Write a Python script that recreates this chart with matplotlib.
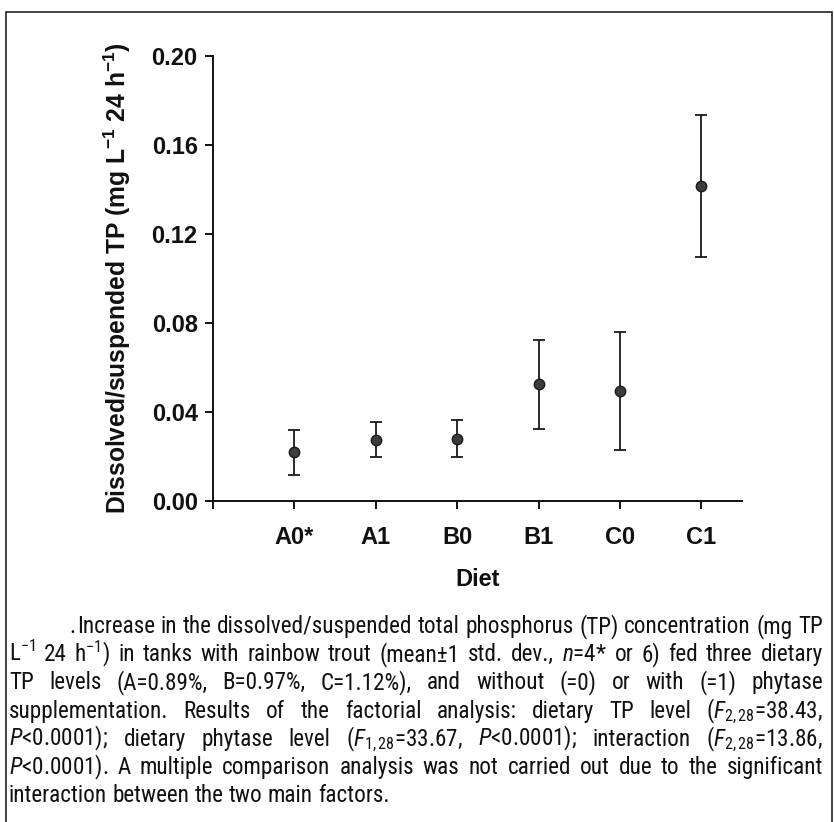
import matplotlib
matplotlib.use('Agg')
import matplotlib.pyplot as plt
from matplotlib import font_manager as fm
from matplotlib.patches import Rectangle

# ---------------- data ----------------
diets = ['A0*', 'A1', 'B0', 'B1', 'C0', 'C1']
means = [0.0218, 0.0276, 0.0280, 0.0524, 0.0494, 0.1416]
sds = [0.0100, 0.0078, 0.0083, 0.0201, 0.0265, 0.0319]
yticks = [0.00, 0.04, 0.08, 0.12, 0.16, 0.20]
ylabel = r'Dissolved/suspended TP (mg L$^{-1}$ 24 h$^{-1}$)'
xlabel = 'Diet'

caption_lines = [
    ['Increase', 'in', 'the', 'dissolved/suspended', 'total', 'phosphorus', '(TP)', 'concentration', '(mg', 'TP'],
    ['L$^{-1}$', '24', 'h$^{-1}$)', 'in', 'tanks', 'with', 'rainbow', 'trout', '(mean±1', 'std.', 'dev.,',
     r'$\mathit{n}$=4*', 'or', '6)', 'fed', 'three', 'dietary'],
    ['TP', 'levels', '(A=0.89%,', 'B=0.97%,', 'C=1.12%),', 'and', 'without', '(=0)', 'or', 'with', '(=1)', 'phytase'],
    ['supplementation.', 'Results', 'of', 'the', 'factorial', 'analysis:', 'dietary', 'TP', 'level',
     r'($\mathit{F}_{2,28}$=38.43,'],
    [r'$\mathit{P}$<0.0001);', 'dietary', 'phytase', 'level', r'($\mathit{F}_{1,28}$=33.67,',
     r'$\mathit{P}$<0.0001);', 'interaction', r'($\mathit{F}_{2,28}$=13.86,'],
    [r'$\mathit{P}$<0.0001).', 'A', 'multiple', 'comparison', 'analysis', 'was', 'not', 'carried', 'out',
     'due', 'to', 'the', 'significant'],
    ['interaction', 'between', 'the', 'two', 'main', 'factors.'],
]

# ---------------- fonts ----------------
names = {f.name for f in fm.fontManager.ttflist}
cap_family = next((n for n in ['Liberation Sans Narrow', 'Roboto Condensed', 'Open Sans Condensed',
                               'Liberation Sans'] if n in names), 'DejaVu Sans')

plt.rcParams['font.family'] = ['Liberation Sans', 'DejaVu Sans']
plt.rcParams['mathtext.fontset'] = 'custom'
plt.rcParams['mathtext.default'] = 'regular'
plt.rcParams['mathtext.rm'] = cap_family
plt.rcParams['mathtext.it'] = cap_family + ':italic'
plt.rcParams['mathtext.bf'] = 'Liberation Sans:bold'

W, H = 834, 822
fig = plt.figure(figsize=(W / 100, H / 100), dpi=100)

# axes placement (pixels -> figure fraction)
ax_l, ax_r, ax_t, ax_b = 213, 742, 56, 501
ax = fig.add_axes([ax_l / W, 1 - ax_b / H, (ax_r - ax_l) / W, (ax_b - ax_t) / H])

x = list(range(1, len(diets) + 1))
ax.errorbar(x, means, yerr=sds, fmt='o', color='#1a1a1a', ecolor='#1a1a1a',
            markerfacecolor='#3c3c3c', markeredgecolor='#1a1a1a', markersize=7.5,
            elinewidth=1.3, capsize=4.5, capthick=1.3, zorder=3)

ax.set_xlim(0, 6.5)
ax.set_ylim(0, 0.20)
ax.set_yticks(yticks)
ax.set_yticklabels([f'{v:.2f}' for v in yticks])
ax.set_xticks(x)
ax.set_xticklabels(diets)
ax.set_xticks([0], minor=True)

for s in ['top', 'right']:
    ax.spines[s].set_visible(False)
for s in ['left', 'bottom']:
    ax.spines[s].set_linewidth(1.4)
    ax.spines[s].set_color('#111111')

ax.tick_params(axis='y', which='major', direction='out', length=6, width=1.4, pad=5,
               labelsize=17, colors='#111111')
ax.tick_params(axis='x', which='both', direction='out', length=6, width=1.4, pad=12,
               labelsize=17, colors='#111111')
for lab in ax.get_xticklabels() + ax.get_yticklabels():
    lab.set_fontweight('bold')

ax.set_ylabel(ylabel, fontsize=17.7, fontweight='bold', color='#111111')
ax.yaxis.set_label_coords(-0.151, 0.5)
ax.set_xlabel(xlabel, fontsize=17, fontweight='bold', color='#111111')
ax.xaxis.set_label_coords(0.5, -(580 - ax_b) / (ax_b - ax_t))
ax.xaxis.label.set_va('center')

# ---------------- frame ----------------
fig.patches.append(Rectangle((6 / W, -0.02), (832 - 6) / W, 1.02 - 12 / H,
                             transform=fig.transFigure, fill=False,
                             edgecolor='#222222', linewidth=1.2))

# ---------------- caption (justified) ----------------
fig.canvas.draw()
renderer = fig.canvas.get_renderer()


def text_width(s, fs):
    t = fig.text(0, 0, s, fontsize=fs, family=cap_family)
    w = t.get_window_extent(renderer).width
    t.remove()
    return w


left_x, right_x = 9, 823
first_x = 77

# choose a font size so the tightest line has normal word spacing
ref_fs = 15
space_ref = text_width('a b', ref_fs) - text_width('ab', ref_fs)
ratios = []
for i, words in enumerate(caption_lines[:-1]):
    avail = right_x - (first_x if i == 0 else left_x)
    natural = sum(text_width(w, ref_fs) for w in words) + space_ref * (len(words) - 1)
    ratios.append(avail / natural)
cap_fs = ref_fs * min(ratios) * 0.995
space_w = space_ref * cap_fs / ref_fs

base0, step = 633, 28.2
for i, words in enumerate(caption_lines):
    yb = base0 + step * i
    x0 = first_x if i == 0 else left_x
    if i == 0:
        fig.text(69 / W, 1 - yb / H, '.', fontsize=cap_fs, family=cap_family,
                 ha='left', va='baseline', color='#111111')
    widths = [text_width(w, cap_fs) for w in words]
    if i == len(caption_lines) - 1:
        gap = space_w
    else:
        gap = (right_x - x0 - sum(widths)) / (len(words) - 1)
    xp = x0
    for w, wd in zip(words, widths):
        fig.text(xp / W, 1 - yb / H, w, fontsize=cap_fs, family=cap_family,
                 ha='left', va='baseline', color='#111111')
        xp += wd + gap

fig.savefig('out.png', dpi=100)
